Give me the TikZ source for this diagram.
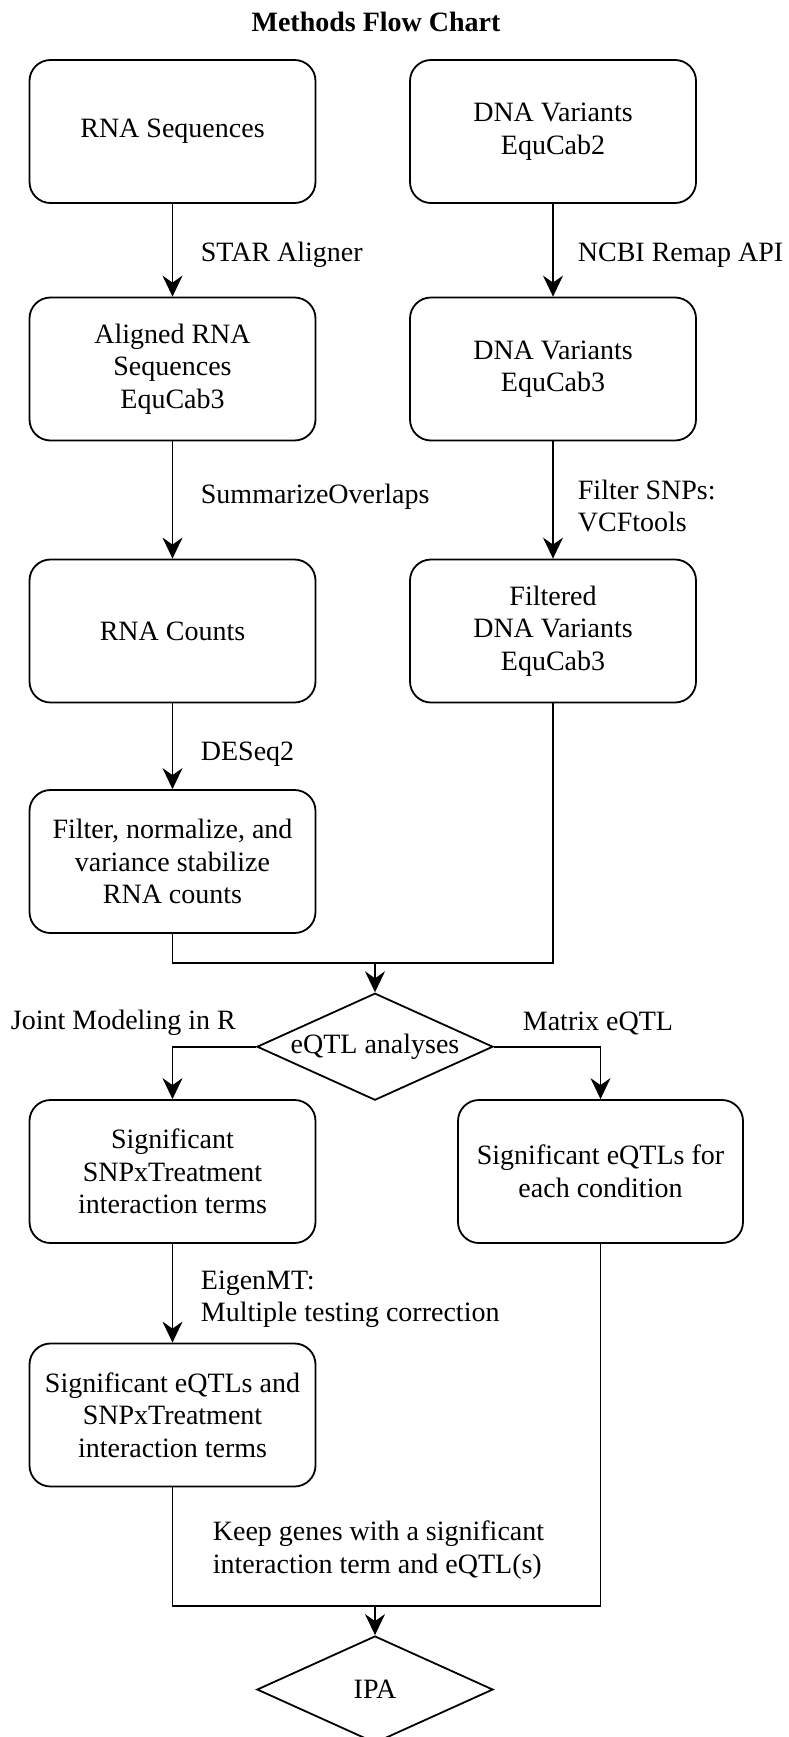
\documentclass[tikz,border=0pt]{standalone}
\usepackage{fontspec}
\setmainfont{Liberation Serif}
\usetikzlibrary{arrows.meta,shapes.geometric}

\tikzset{
  stepbox/.style={draw, rounded corners=21pt, minimum width=286pt, minimum height=143pt,
    align=center, inner sep=2pt},
  decision/.style={draw, diamond, aspect=2.2, minimum width=236pt, minimum height=107pt,
    inner sep=0pt, align=center},
  flowlabel/.style={anchor=west, align=left, inner sep=0pt},
  arr/.style={-{Stealth[length=21pt, width=20pt, inset=7pt]}},
}

\begin{document}
\begin{tikzpicture}[x=1pt, y=-1pt, line width=1.8pt,
  font=\fontsize{28}{32.5}\selectfont]
\useasboundingbox (0,0) rectangle (788,1737);

% title
\node[font=\fontsize{28}{32.5}\selectfont\bfseries] (title) at (376,22) {Methods Flow Chart};

% RNA branch
\node[stepbox] (rnaseq)  at (172.5,131.5)  {RNA Sequences};
\node[stepbox] (aligned) at (172.5,369)    {Aligned RNA\\Sequences\\EquCab3};
\node[stepbox] (counts)  at (172.5,631)    {RNA Counts};
\node[stepbox] (norm)    at (172.5,861.5)  {Filter, normalize, and\\variance stabilize\\RNA counts};

% DNA branch
\node[stepbox] (dnatwo)   at (553,131.5) {DNA Variants\\EquCab2};
\node[stepbox] (dnathree) at (553,369)   {DNA Variants\\EquCab3};
\node[stepbox] (filtered) at (553,631)   {Filtered\\DNA Variants\\EquCab3};

% analyses
\node[decision] (eqtl) at (375,1046.7) {eQTL analyses};
\node[stepbox] (sigint)  at (172.5,1171.5) {Significant\\SNPxTreatment\\interaction terms};
\node[stepbox, minimum width=285pt] (sigcond) at (600.5,1171.5) {Significant eQTLs for\\each condition};
\node[stepbox] (sigboth) at (172.5,1415) {Significant eQTLs and\\SNPxTreatment\\interaction terms};
\node[decision] (ipa) at (375,1689.5) {IPA};

% junction points
\coordinate (joinA) at (375,963);
\coordinate (joinB) at (375,1606);

% connector labels
\node[flowlabel] (lstar)  at (200,255)   {STAR Aligner};
\node[flowlabel] (lncbi)  at (577,255)   {NCBI Remap API};
\node[flowlabel] (lsum)   at (200,497)   {SummarizeOverlaps};
\node[flowlabel] (lvcf)   at (577,506)   {Filter SNPs:\\VCFtools};
\node[flowlabel] (ldes)   at (200,754)   {DESeq2};
\node[flowlabel] (ljoint) at (10,1023)   {Joint Modeling in R};
\node[flowlabel] (lmat)   at (522,1023)  {Matrix eQTL};
\node[flowlabel] (leigen) at (200,1299)  {EigenMT:\\Multiple testing correction};
\node[flowlabel] (lkeep)  at (212,1550)  {Keep genes with a significant\\interaction term and eQTL(s)};

% connectors
\draw[arr] (rnaseq) -- (aligned);
\draw[arr] (aligned) -- (counts);
\draw[arr] (counts) -- (norm);
\draw[arr] (dnatwo) -- (dnathree);
\draw[arr] (dnathree) -- (filtered);
\draw (norm.south) |- (joinA) -| (filtered.south);
\draw[arr] (joinA) -- (eqtl.north);
\draw[arr] (eqtl.west) -| (sigint.north);
\draw[arr] (eqtl.east) -| (sigcond.north);
\draw[arr] (sigint) -- (sigboth);
\draw (sigboth.south) |- (joinB) -| (sigcond.south);
\draw[arr] (joinB) -- (ipa.north);
\end{tikzpicture}
\end{document}
